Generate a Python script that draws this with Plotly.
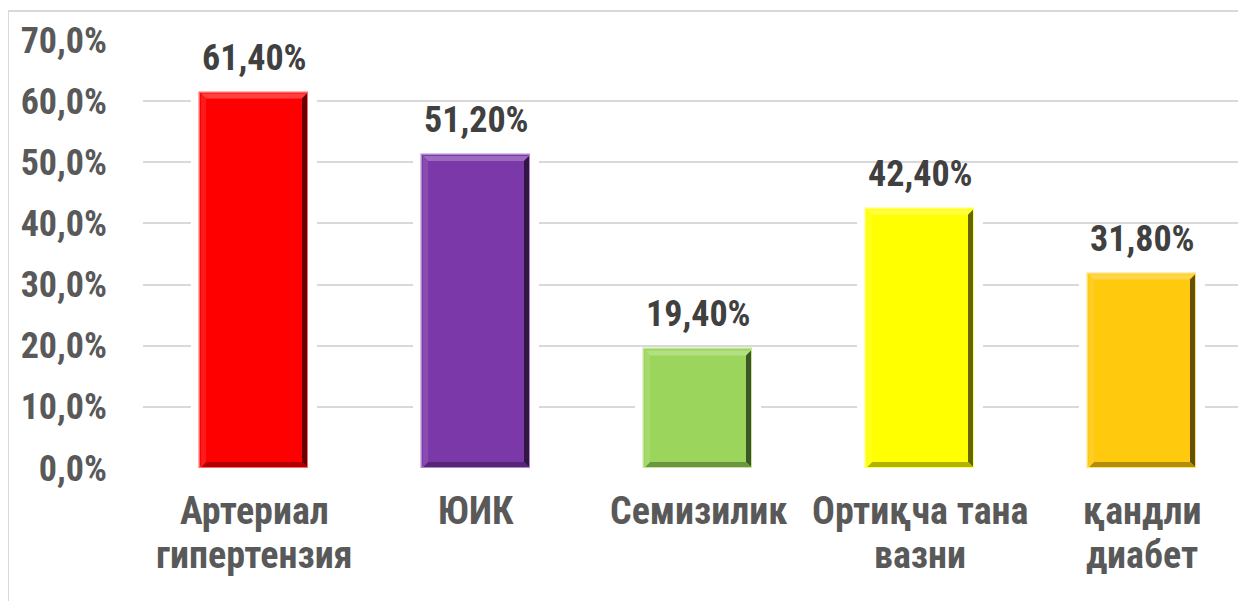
import plotly.graph_objects as go

categories = [["Артериал", "гипертензия"], ["ЮИК"], ["Семизилик"], ["Ортиқча тана", "вазни"], ["қандли", "диабет"]]
values = [61.4, 51.2, 19.4, 42.4, 31.8]
bar_colors = ["#FF0000", "#7B38A8", "#9BD55B", "#FFFF00", "#FFC90E"]
tick_values = [0, 10, 20, 30, 40, 50, 60, 70]
tick_labels = [f"{v:.1f}".replace(".", ",") + "%" for v in tick_values]

FONT = "Liberation Sans Narrow, Arial Narrow, Roboto Condensed, Arial, sans-serif"
OFF = 8  # default page body margin
W, H = 1246 - OFF, 601 - OFF
ML, MR, MT, MB = 143 - OFF, 0, 40 - OFF, 133
plot_w = W - ML - MR
plot_h = H - MT - MB
slot_px = 222.0
x_range = [-0.5, -0.5 + plot_w / slot_px]
y_range = [0, 70]
px_x = slot_px
px_y = plot_h / (y_range[1] - y_range[0])
bar_w = 108 / slot_px
FS_TICK = 36
FS_CAT = 38
FS_LBL = 36


def mix(hexc, other, t):
    a = [int(hexc[i:i + 2], 16) for i in (1, 3, 5)]
    b = [int(other[i:i + 2], 16) for i in (1, 3, 5)]
    c = [round(a[k] * (1 - t) + b[k] * t) for k in range(3)]
    return "#%02X%02X%02X" % tuple(c)


def page_y_to_paper(Y):
    return 1 - (Y - 40) / plot_h


xs = list(range(len(categories)))
fig = go.Figure()
# white halo behind bars (interrupts gridlines)
fig.add_trace(go.Bar(x=xs, y=[v + 1.2 for v in values], base=-1.0,
                     width=bar_w + 18 / slot_px,
                     marker=dict(color="white", line=dict(width=0)),
                     hoverinfo="skip", showlegend=False))
fig.add_trace(go.Bar(x=xs, y=values, width=bar_w,
                     marker=dict(color=bar_colors,
                                 line=dict(color=[mix(c, "#FFFFFF", 0.4) for c in bar_colors], width=1.5)),
                     showlegend=False))

shapes = []
bx = 5 / px_x
by = 5 / px_y
hw = bar_w / 2 - 1 / px_x
for i, (v, c) in enumerate(zip(values, bar_colors)):
    L, R = i - hw, i + hw
    top = v - 1 / px_y
    bot = 1 / px_y
    polys = [
        ([(L, top), (R, top), (R - bx, top - by), (L + bx, top - by)], mix(c, "#FFFFFF", 0.25)),
        ([(R, top), (R, bot), (R - bx, bot + by), (R - bx, top - by)], mix(c, "#000000", 0.6)),
        ([(L, bot), (R, bot), (R - bx, bot + by), (L + bx, bot + by)], mix(c, "#000000", 0.3)),
        ([(L, bot), (L, top), (L + bx, top - by), (L + bx, bot + by)], mix(c, "#FFFFFF", 0.1)),
    ]
    for pts, col in polys:
        path = "M " + " L ".join(f"{px},{py}" for px, py in pts) + " Z"
        shapes.append(dict(type="path", path=path, xref="x", yref="y",
                           fillcolor=col, line=dict(width=0), layer="above"))

# outer chart border (light gray)
shapes.append(dict(type="rect", xref="paper", yref="paper",
                   x0=(8 - 143) / plot_w, x1=1.2, y0=-0.5, y1=page_y_to_paper(11),
                   line=dict(color="#D9D9D9", width=2), fillcolor="rgba(0,0,0,0)", layer="below"))

annotations = []
for i, v in enumerate(values):
    annotations.append(dict(x=i, y=v, xref="x", yref="y", yanchor="bottom",
                            text=f"{v:.2f}".replace(".", ",") + "%", showarrow=False, yshift=12,
                            font=dict(family=FONT, size=FS_LBL, color="#404040", weight="bold")))

# category labels (two-line, tighter line spacing than plotly's default)
line_centers = [511, 555]
for i, lines in enumerate(categories):
    for k, txt in enumerate(lines):
        annotations.append(dict(x=i, y=page_y_to_paper(line_centers[k]), xref="x", yref="paper",
                                yanchor="middle", xanchor="center", text=txt, showarrow=False,
                                borderpad=0,
                                font=dict(family=FONT, size=FS_CAT, color="#595959", weight="bold")))

fig.update_layout(
    width=W, height=H,
    margin=dict(l=ML, r=MR, t=MT, b=MB, autoexpand=False),
    plot_bgcolor="white", paper_bgcolor="white",
    bargap=0, barmode="overlay",
    shapes=shapes, annotations=annotations,
    font=dict(family=FONT, size=FS_TICK, color="#595959", weight="bold"),
)
fig.update_xaxes(type="linear", range=x_range, showticklabels=False,
                 showgrid=False, zeroline=False, showline=False, ticks="")
fig.update_yaxes(range=y_range, tickvals=tick_values, ticktext=tick_labels,
                 showgrid=True, gridcolor="#D9D9D9", gridwidth=1.5, zeroline=False,
                 showline=False, ticks="", ticklabelstandoff=35,
                 tickfont=dict(family=FONT, size=FS_TICK, color="#595959", weight="bold"))

fig.write_html("out.html")
